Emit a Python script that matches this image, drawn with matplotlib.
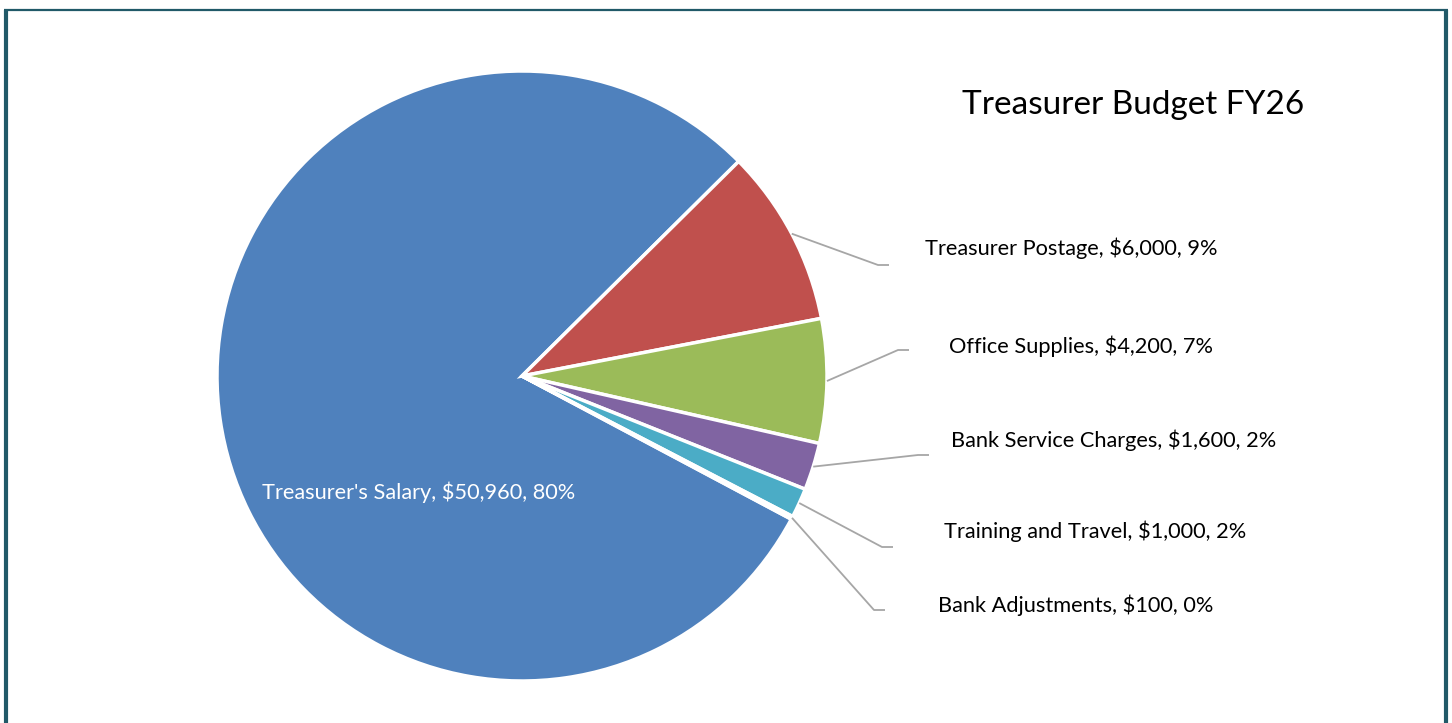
import numpy as np
import matplotlib
matplotlib.use("Agg")
import matplotlib.pyplot as plt

plt.rcParams["font.family"] = ["Lato", "DejaVu Sans"]

# budget lines, FY26
categories = ["Treasurer's Salary", "Treasurer Postage", "Office Supplies",
              "Bank Service Charges", "Training and Travel", "Bank Adjustments"]
amounts = [50960, 6000, 4200, 1600, 1000, 100]
percents = ["80%", "9%", "7%", "2%", "2%", "0%"]
colors = ["#4F81BD", "#C0504D", "#9BBB59", "#8064A2", "#4BACC6", "#F79646"]

W, H = 1452, 723
fig = plt.figure(figsize=(W / 100, H / 100), dpi=100)
ax = fig.add_axes([0, 0, 1, 1])

cx, cy, r = 522, H - 376, 305
wedges, _ = ax.pie(amounts, colors=colors, startangle=-28, counterclock=False,
                   center=(cx, cy), radius=r, frame=True,
                   wedgeprops=dict(edgecolor="white", linewidth=2.5))

labels = [f"{c}, ${a:,}, {p}" for c, a, p in zip(categories, amounts, percents)]

# salary label sits inside its slice
ax.text(419, H - 492, labels[0], color="white", fontsize=15.7,
        ha="center", va="center")

# elbow of each leader line (x, y in pixels from top) and label left edge
elbows = [(878, 265), (898, 350), (918, 455), (882, 547), (874, 610)]
text_x = [925, 949, 951, 944, 938]
text_y = [248, 346, 440, 531, 605]
for i in range(1, len(amounts)):
    w = wedges[i]
    mid = np.deg2rad((w.theta1 + w.theta2) / 2)
    sx, sy = cx + r * np.cos(mid), cy + r * np.sin(mid)
    ex, ey = elbows[i - 1]
    ax.plot([sx, ex, ex + 11], [sy, H - ey, H - ey], color="#A6A6A6",
            lw=1.3, solid_capstyle="butt")
    ax.text(text_x[i - 1], H - text_y[i - 1], labels[i], fontsize=15.7,
            ha="left", va="center", color="black")

ax.text(1133, H - 105, "Treasurer Budget FY26", fontsize=24,
        ha="center", va="center", color="black")

# chart frame
frame = "#215968"
ax.plot([6, 6], [-5, H - 10], color=frame, lw=3, solid_capstyle="butt")
ax.plot([1446, 1446], [-5, H - 10], color=frame, lw=3, solid_capstyle="butt")
ax.plot([4, 1448], [H - 10, H - 10], color=frame, lw=1.6, solid_capstyle="butt")

ax.set_xlim(0, W)
ax.set_ylim(0, H)
ax.set_aspect("equal")
ax.axis("off")

fig.savefig("out.png", dpi=100)
